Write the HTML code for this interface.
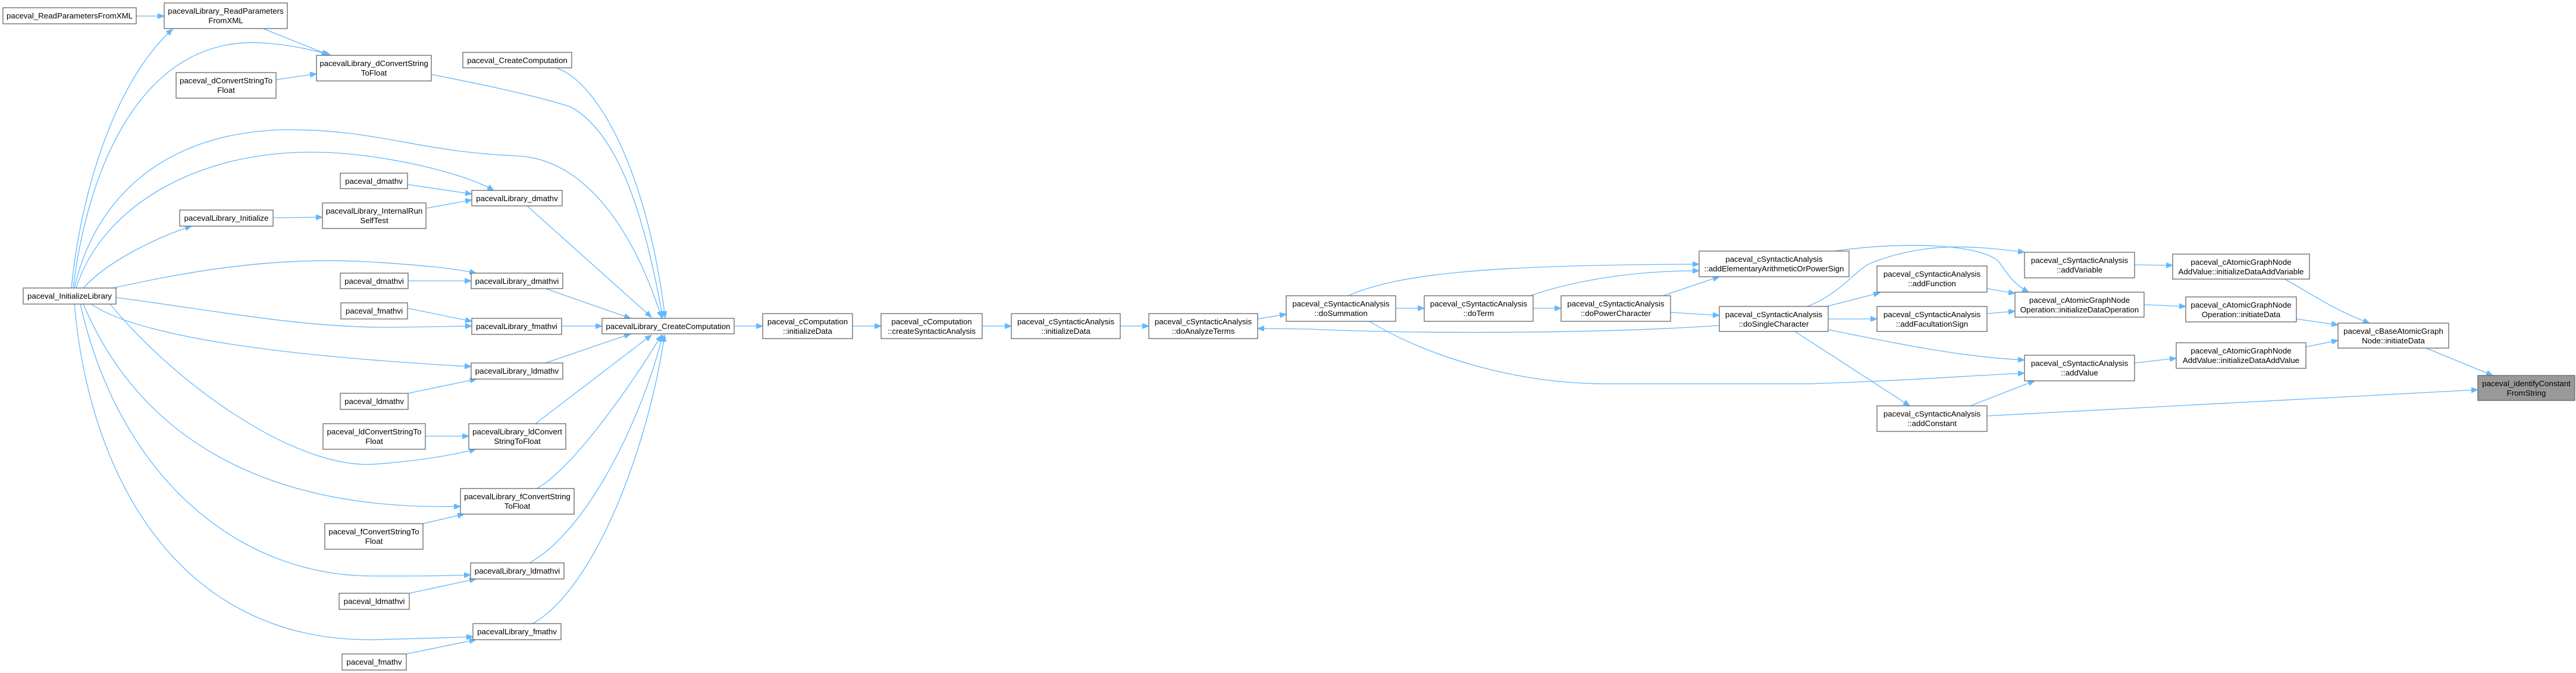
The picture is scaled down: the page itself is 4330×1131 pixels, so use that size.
<!DOCTYPE html>
<html><head><meta charset="utf-8"><style>
html,body{margin:0;padding:0;background:#fff;}
svg{display:block}
text{font-family:"Liberation Sans",Helvetica,sans-serif;font-size:13.3px;fill:#000;text-anchor:middle}
.n{fill:#fff;stroke:#666;stroke-width:1.3}
.e{fill:none;stroke:#63b8ff;stroke-width:1.3;marker-end:url(#a)}
</style></head><body>
<svg width="4330" height="1131" viewBox="0 0 4330 1131" xmlns="http://www.w3.org/2000/svg">
<defs><marker id="a" markerUnits="userSpaceOnUse" markerWidth="12" markerHeight="9" refX="11" refY="4.5" orient="auto"><path d="M0,0 L11,4.5 L0,9 z" fill="#63b8ff" stroke="#63b8ff"/></marker></defs>
<g>
<path class="e" d="M229,27 L276,27"/>
<path class="e" d="M120,484 C135,330 190,140 290,49"/>
<path class="e" d="M123,484 C145,300 230,60 440,72 C490,75 530,85 556,93"/>
<path class="e" d="M442,48 L552,92"/>
<path class="e" d="M464,134 L532,124"/>
<path class="e" d="M725,125 C800,140 900,160 960,180 C1050,230 1090,400 1114,534"/>
<path class="e" d="M935,114 C1010,140 1090,300 1118,534"/>
<path class="e" d="M125,484 C160,330 280,220 484,218 C640,218 700,255 870,262 C990,268 1070,400 1112,534"/>
<path class="e" d="M128,484 C170,350 330,250 540,256 C640,258 780,290 830,320"/>
<path class="e" d="M685,310 L793,326"/>
<path class="e" d="M716,350 L793,336"/>
<path class="e" d="M459,366 L542,365"/>
<path class="e" d="M140,484 C180,440 260,400 322,380"/>
<path class="e" d="M886,346 L1095,533"/>
<path class="e" d="M190,484 C300,460 450,430 620,440 C700,445 760,450 800,459"/>
<path class="e" d="M686,472 L792,472"/>
<path class="e" d="M917,485 L1060,535"/>
<path class="e" d="M195,500 C350,520 500,550 650,550 C710,550 760,548 793,548"/>
<path class="e" d="M685,518 L793,540"/>
<path class="e" d="M944,548 L1012,548"/>
<path class="e" d="M153,511 C240,570 500,600 792,616"/>
<path class="e" d="M686,661 L801,637"/>
<path class="e" d="M917,610 L1060,561"/>
<path class="e" d="M185,511 C300,650 500,790 631,780 C700,775 760,765 800,755"/>
<path class="e" d="M715,733 L788,733"/>
<path class="e" d="M900,712 L1095,563"/>
<path class="e" d="M140,511 C220,700 400,860 774,851"/>
<path class="e" d="M711,880 L780,864"/>
<path class="e" d="M902,821 C960,790 1060,650 1112,563"/>
<path class="e" d="M135,511 C200,800 400,970 630,968 C700,968 750,968 791,966"/>
<path class="e" d="M688,997 L800,973"/>
<path class="e" d="M890,946 C990,890 1080,700 1114,563"/>
<path class="e" d="M125,511 C150,800 300,1080 630,1075 C700,1073 750,1072 795,1070"/>
<path class="e" d="M683,1099 L800,1075"/>
<path class="e" d="M895,1048 C1000,990 1090,750 1117,563"/>
<path class="e" d="M1234,548 L1282,548"/>
<path class="e" d="M1433,548 L1481,548"/>
<path class="e" d="M1651,548 L1700,548"/>
<path class="e" d="M1883,548 L1931,548"/>
<path class="e" d="M2114,536 L2162,528"/>
<path class="e" d="M2890,547 C2700,560 2400,562 2200,553 L2114,552"/>
<path class="e" d="M2346,518 L2394,518"/>
<path class="e" d="M2577,518 L2624,518"/>
<path class="e" d="M2808,525 L2890,530"/>
<path class="e" d="M2266,497 C2350,460 2500,445 2856,444"/>
<path class="e" d="M2572,497 C2650,470 2750,455 2856,455"/>
<path class="e" d="M2795,497 L2890,465"/>
<path class="e" d="M2302,540 C2400,600 2550,645 2700,645 L3040,645 C3200,640 3300,632 3403,627"/>
<path class="e" d="M3070,515 L3160,492"/>
<path class="e" d="M3073,536 L3155,536"/>
<path class="e" d="M3073,554 C3200,580 3300,600 3403,605"/>
<path class="e" d="M3017,557 L3210,682"/>
<path class="e" d="M3038,515 C3100,490 3120,450 3150,440 C3230,410 3300,410 3403,424"/>
<path class="e" d="M3083,422 C3200,405 3330,410 3360,440 C3380,470 3390,480 3410,491"/>
<path class="e" d="M3340,485 L3387,493"/>
<path class="e" d="M3340,527 L3387,523"/>
<path class="e" d="M3312,682 L3420,640"/>
<path class="e" d="M3340,699 L4165,655"/>
<path class="e" d="M3588,445 L3652,446"/>
<path class="e" d="M3604,512 L3674,515"/>
<path class="e" d="M3588,610 L3658,602"/>
<path class="e" d="M3840,469 C3880,490 3920,520 3983,543"/>
<path class="e" d="M3860,536 L3930,546"/>
<path class="e" d="M3876,583 L3930,572"/>
<path class="e" d="M4078,585 L4190,631"/>
</g>
<g>
<rect class="n" x="5" y="13" width="224" height="27"/><text x="117" y="31">paceval_ReadParametersFromXML</text>
<rect class="n" x="276" y="5" width="207" height="43"/><text x="379.5" y="23">pacevalLibrary_ReadParameters</text><text x="379.5" y="39">FromXML</text>
<rect class="n" x="532" y="93" width="193" height="43"/><text x="628.5" y="111">pacevalLibrary_dConvertString</text><text x="628.5" y="127">ToFloat</text>
<rect class="n" x="778" y="88" width="183" height="26"/><text x="869.5" y="106">paceval_CreateComputation</text>
<rect class="n" x="296" y="122" width="168" height="43"/><text x="380" y="140">paceval_dConvertStringTo</text><text x="380" y="156">Float</text>
<rect class="n" x="572" y="291" width="113" height="26"/><text x="628.5" y="309">paceval_dmathv</text>
<rect class="n" x="793" y="320" width="152" height="26"/><text x="869" y="338">pacevalLibrary_dmathv</text>
<rect class="n" x="542" y="341" width="174" height="43"/><text x="629" y="359">pacevalLibrary_InternalRun</text><text x="629" y="375">SelfTest</text>
<rect class="n" x="302" y="353" width="157" height="27"/><text x="380.5" y="371">pacevalLibrary_Initialize</text>
<rect class="n" x="572" y="459" width="114" height="26"/><text x="629" y="477">paceval_dmathvi</text>
<rect class="n" x="792" y="459" width="154" height="26"/><text x="869" y="477">pacevalLibrary_dmathvi</text>
<rect class="n" x="573" y="509" width="112" height="27"/><text x="629" y="527">paceval_fmathvi</text>
<rect class="n" x="793" y="535" width="151" height="27"/><text x="868.5" y="553">pacevalLibrary_fmathvi</text>
<rect class="n" x="39" y="484" width="156" height="27"/><text x="117" y="502">paceval_InitializeLibrary</text>
<rect class="n" x="1012" y="535" width="222" height="26"/><text x="1123" y="553">pacevalLibrary_CreateComputation</text>
<rect class="n" x="792" y="610" width="154" height="27"/><text x="869" y="628">pacevalLibrary_ldmathv</text>
<rect class="n" x="572" y="661" width="114" height="27"/><text x="629" y="679">paceval_ldmathv</text>
<rect class="n" x="543" y="712" width="172" height="43"/><text x="629" y="730">paceval_ldConvertStringTo</text><text x="629" y="746">Float</text>
<rect class="n" x="788" y="712" width="163" height="43"/><text x="869.5" y="730">pacevalLibrary_ldConvert</text><text x="869.5" y="746">StringToFloat</text>
<rect class="n" x="774" y="821" width="191" height="43"/><text x="869.5" y="839">pacevalLibrary_fConvertString</text><text x="869.5" y="855">ToFloat</text>
<rect class="n" x="546" y="880" width="165" height="43"/><text x="628.5" y="898">paceval_fConvertStringTo</text><text x="628.5" y="914">Float</text>
<rect class="n" x="791" y="946" width="157" height="27"/><text x="869.5" y="964">pacevalLibrary_ldmathvi</text>
<rect class="n" x="570" y="997" width="118" height="27"/><text x="629" y="1015">paceval_ldmathvi</text>
<rect class="n" x="795" y="1048" width="148" height="27"/><text x="869" y="1066">pacevalLibrary_fmathv</text>
<rect class="n" x="575" y="1099" width="108" height="27"/><text x="629" y="1117">paceval_fmathv</text>
<rect class="n" x="1282" y="527" width="151" height="42"/><text x="1357.5" y="545">paceval_cComputation</text><text x="1357.5" y="561">::initializeData</text>
<rect class="n" x="1481" y="527" width="170" height="42"/><text x="1566" y="545">paceval_cComputation</text><text x="1566" y="561">::createSyntacticAnalysis</text>
<rect class="n" x="1700" y="527" width="183" height="42"/><text x="1791.5" y="545">paceval_cSyntacticAnalysis</text><text x="1791.5" y="561">::initializeData</text>
<rect class="n" x="1931" y="527" width="183" height="42"/><text x="2022.5" y="545">paceval_cSyntacticAnalysis</text><text x="2022.5" y="561">::doAnalyzeTerms</text>
<rect class="n" x="2162" y="497" width="184" height="43"/><text x="2254" y="515">paceval_cSyntacticAnalysis</text><text x="2254" y="531">::doSummation</text>
<rect class="n" x="2394" y="497" width="183" height="43"/><text x="2485.5" y="515">paceval_cSyntacticAnalysis</text><text x="2485.5" y="531">::doTerm</text>
<rect class="n" x="2624" y="497" width="184" height="43"/><text x="2716" y="515">paceval_cSyntacticAnalysis</text><text x="2716" y="531">::doPowerCharacter</text>
<rect class="n" x="2856" y="422" width="252" height="43"/><text x="2982" y="440">paceval_cSyntacticAnalysis</text><text x="2982" y="456">::addElementaryArithmeticOrPowerSign</text>
<rect class="n" x="2890" y="515" width="183" height="42"/><text x="2981.5" y="533">paceval_cSyntacticAnalysis</text><text x="2981.5" y="549">::doSingleCharacter</text>
<rect class="n" x="3155" y="447" width="185" height="44"/><text x="3247.5" y="465">paceval_cSyntacticAnalysis</text><text x="3247.5" y="481">::addFunction</text>
<rect class="n" x="3155" y="515" width="185" height="42"/><text x="3247.5" y="533">paceval_cSyntacticAnalysis</text><text x="3247.5" y="549">::addFacultationSign</text>
<rect class="n" x="3155" y="682" width="185" height="43"/><text x="3247.5" y="700">paceval_cSyntacticAnalysis</text><text x="3247.5" y="716">::addConstant</text>
<rect class="n" x="3403" y="424" width="185" height="43"/><text x="3495.5" y="442">paceval_cSyntacticAnalysis</text><text x="3495.5" y="458">::addVariable</text>
<rect class="n" x="3387" y="491" width="217" height="42"/><text x="3495.5" y="509">paceval_cAtomicGraphNode</text><text x="3495.5" y="525">Operation::initializeDataOperation</text>
<rect class="n" x="3403" y="597" width="185" height="43"/><text x="3495.5" y="615">paceval_cSyntacticAnalysis</text><text x="3495.5" y="631">::addValue</text>
<rect class="n" x="3652" y="427" width="230" height="42"/><text x="3767" y="445">paceval_cAtomicGraphNode</text><text x="3767" y="461">AddValue::initializeDataAddVariable</text>
<rect class="n" x="3674" y="499" width="186" height="42"/><text x="3767" y="517">paceval_cAtomicGraphNode</text><text x="3767" y="533">Operation::initiateData</text>
<rect class="n" x="3658" y="576" width="218" height="43"/><text x="3767" y="594">paceval_cAtomicGraphNode</text><text x="3767" y="610">AddValue::initializeDataAddValue</text>
<rect class="n" x="3930" y="543" width="186" height="42"/><text x="4023" y="561">paceval_cBaseAtomicGraph</text><text x="4023" y="577">Node::initiateData</text>
<rect x="4165" y="631" width="163" height="42" fill="#999" stroke="#666" stroke-width="1.3"/><text x="4246.5" y="649">paceval_identifyConstant</text><text x="4246.5" y="665">FromString</text>
</g>
</svg>
</body></html>
